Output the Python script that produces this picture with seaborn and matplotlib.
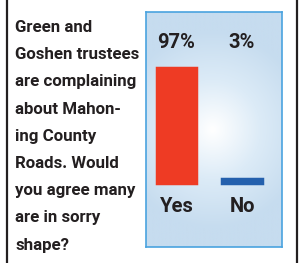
import numpy as np
import matplotlib
matplotlib.use("Agg")
import matplotlib.pyplot as plt
import seaborn as sns
from matplotlib.colors import LinearSegmentedColormap

# Poll data
answers = ["Yes", "No"]
percents = [97, 3]
bar_colors = ["#ee3b24", "#2460ad"]
question_lines = ["Green and", "Goshen trustees", "are complaining", "about Mahon-",
                  "ing County", "Roads. Would", "you agree many", "are in sorry", "shape?"]

sns.set_theme(style="white")
plt.rcParams['font.family'] = ['Roboto', 'DejaVu Sans']
ink = "#231f20"

W, H = 299, 263
fig = plt.figure(figsize=(W / 100, H / 100), dpi=100)
fig.patch.set_facecolor("white")

# side rules
fig.add_artist(plt.Line2D([7 / W, 7 / W], [0, 1], color=ink, lw=1.6))
fig.add_artist(plt.Line2D([297 / W, 297 / W], [0, 1], color=ink, lw=1.6))

# question, one line at a time (baselines ~27 px apart)
for i, line in enumerate(question_lines):
    fig.text(15 / W, 1 - (32 + i * 27.2) / H, line, ha="left", va="baseline",
             fontsize=12.2, fontweight="bold", color=ink)

# panel
ax = fig.add_axes([146 / W, 16 / H, 136 / W, 235 / H])
yy, xx = np.mgrid[0:1:200j, 0:1:200j]
r = np.sqrt(((xx - 0.49) * 0.6) ** 2 + ((yy - 0.5) * 1.0) ** 2)
cmap = LinearSegmentedColormap.from_list("bg", ["#ffffff", "#dcebf7", "#c6dcef"])
ax.imshow(np.clip(r / 0.42, 0, 1), cmap=cmap, extent=[0, 1, 0, 1],
          transform=ax.transAxes, aspect="auto", zorder=0)

sns.barplot(x=answers, y=percents, hue=answers, palette=bar_colors, width=0.6,
            legend=False, ax=ax, zorder=2, linewidth=2.5, saturation=1)
for p, c in zip(ax.patches, bar_colors):
    p.set_edgecolor(c)

ax.set_xlim(-0.466, 1.61)
ax.set_ylim(-54, 144)
for i, (a, v) in enumerate(zip(answers, percents)):
    ax.text(i, 118, f"{v}%", ha="center", va="center", fontsize=14.5,
            fontweight="bold", color=ink)
    ax.text(i, -20, a, ha="center", va="center", fontsize=14.5,
            fontweight="bold", color=ink)

ax.set_xticks([])
ax.set_yticks([])
ax.set_xlabel("")
ax.set_ylabel("")
for s in ax.spines.values():
    s.set_color("#4aa3df")
    s.set_linewidth(1.2)
    s.set_visible(True)

fig.savefig("out.png", dpi=100)
